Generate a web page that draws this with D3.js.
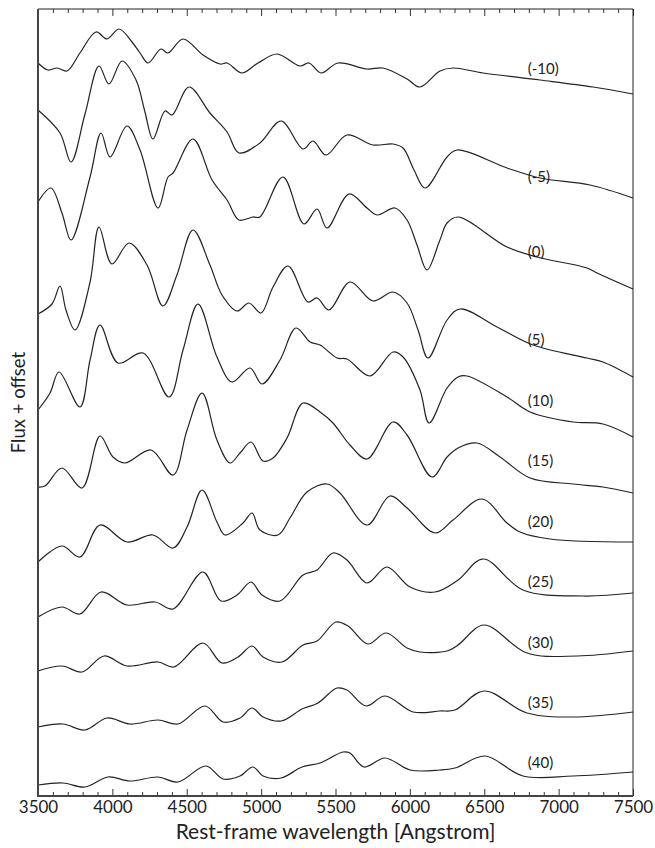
<!DOCTYPE html>
<html>
<head>
<meta charset="utf-8">
<script src="https://cdn.jsdelivr.net/npm/d3@7"></script>
<style>
  body { margin: 0; background: #fff; }
  svg { display: block; }
  text { font-family: Lato, "Open Sans", sans-serif; fill: #222; }
</style>
</head>
<body>
<svg id="chart" width="655" height="848"></svg>
<script>
// Phase labels (days from maximum) for each spectrum, top to bottom
const phases = ["(-10)", "(-5)", "(0)", "(5)", "(10)", "(15)", "(20)", "(25)", "(30)", "(35)", "(40)"];

// Spectra as [wavelength (Angstrom), flux + offset]
const specM10 = [[3500,7.33],[3567,7.26],[3628,7.28],[3695,7.25],[3782,7.43],[3890,7.64],[3964,7.57],[4045,7.67],[4132,7.54],[4186,7.43],[4240,7.33],[4327,7.47],[4374,7.43],[4475,7.57],[4609,7.41],[4724,7.32],[4771,7.33],[4871,7.23],[4979,7.33],[5107,7.42],[5261,7.30],[5322,7.33],[5403,7.23],[5517,7.33],[5712,7.27],[5819,7.28],[5981,7.17],[6068,7.09],[6202,7.25],[6290,7.28],[6492,7.23],[6875,7.16],[7231,7.09],[7500,7.02]];
const specM5 = [[3500,6.86],[3648,6.63],[3722,6.34],[3816,6.82],[3910,7.30],[3977,7.12],[4065,7.35],[4159,7.16],[4219,6.84],[4273,6.57],[4354,6.85],[4401,6.81],[4515,7.09],[4656,6.83],[4771,6.64],[4851,6.43],[4992,6.53],[5134,6.75],[5282,6.47],[5349,6.55],[5436,6.41],[5577,6.61],[5752,6.51],[5887,6.52],[5954,6.48],[6028,6.26],[6102,6.08],[6250,6.39],[6317,6.46],[6653,6.28],[6875,6.18],[7211,6.11],[7500,5.98]];
const spec0 = [[3500,5.94],[3587,6.08],[3661,5.83],[3722,5.56],[3850,6.19],[3924,6.63],[3984,6.39],[4098,6.70],[4186,6.46],[4307,5.88],[4374,6.19],[4408,6.23],[4542,6.57],[4670,6.16],[4771,5.96],[4851,5.76],[4945,5.79],[4992,5.79],[5147,6.19],[5288,5.72],[5376,5.87],[5443,5.68],[5591,6.02],[5712,5.88],[5779,5.81],[5900,5.88],[5981,5.76],[6048,5.51],[6115,5.26],[6202,5.56],[6250,5.73],[6324,5.79],[6653,5.49],[6855,5.39],[7191,5.28],[7258,5.23],[7500,5.07]];
const spec5 = [[3500,4.82],[3594,4.92],[3648,5.10],[3688,4.86],[3749,4.66],[3850,5.14],[3910,5.69],[3997,5.32],[4112,5.53],[4233,5.31],[4340,4.90],[4434,5.21],[4542,5.66],[4656,5.31],[4737,5.01],[4838,4.85],[4918,4.93],[4999,4.83],[5080,5.09],[5181,5.30],[5315,4.94],[5376,4.98],[5456,4.86],[5597,5.14],[5752,4.95],[5887,5.04],[5981,4.93],[6055,4.66],[6122,4.38],[6250,4.76],[6337,4.87],[6586,4.69],[6828,4.51],[7191,4.38],[7298,4.34],[7500,4.19]];
const spec10 = [[3500,3.86],[3581,4.03],[3641,4.24],[3782,3.89],[3850,4.36],[3917,4.71],[4038,4.33],[4206,4.43],[4381,3.99],[4475,4.46],[4576,4.92],[4703,4.39],[4804,4.14],[4925,4.28],[5006,4.12],[5127,4.36],[5234,4.68],[5329,4.54],[5396,4.51],[5510,4.38],[5577,4.37],[5732,4.20],[5887,4.44],[5954,4.39],[6068,4.06],[6129,3.73],[6250,4.08],[6324,4.19],[6384,4.20],[6653,3.99],[6808,3.84],[7097,3.74],[7298,3.72],[7500,3.59]];
const spec15 = [[3500,3.09],[3547,3.10],[3661,3.28],[3796,3.08],[3917,3.60],[4004,3.39],[4085,3.33],[4260,3.46],[4408,3.21],[4502,3.66],[4603,4.03],[4703,3.56],[4791,3.33],[4858,3.43],[4932,3.54],[5013,3.35],[5080,3.38],[5174,3.58],[5282,3.93],[5396,3.84],[5483,3.73],[5597,3.51],[5712,3.37],[5887,3.74],[5981,3.61],[6149,3.19],[6250,3.39],[6324,3.48],[6451,3.53],[6606,3.39],[6808,3.18],[7097,3.12],[7298,3.09],[7500,3.03]];
const spec20 = [[3500,2.34],[3661,2.50],[3782,2.39],[3917,2.71],[4098,2.54],[4273,2.61],[4408,2.48],[4502,2.69],[4603,3.06],[4703,2.74],[4757,2.61],[4878,2.73],[4939,2.83],[4992,2.66],[5113,2.61],[5194,2.78],[5308,3.04],[5443,3.12],[5530,3.03],[5712,2.71],[5866,3.00],[5981,2.88],[6169,2.63],[6290,2.76],[6485,2.97],[6653,2.73],[6740,2.64],[6942,2.57],[7500,2.54]];
const spec25 = [[3500,1.79],[3661,1.89],[3782,1.82],[3924,2.04],[4098,1.91],[4287,1.94],[4408,1.87],[4609,2.24],[4730,1.95],[4838,2.01],[4932,2.14],[5006,2.01],[5127,1.95],[5282,2.21],[5376,2.26],[5483,2.43],[5577,2.36],[5712,2.13],[5846,2.29],[6001,2.09],[6169,2.04],[6324,2.16],[6492,2.37],[6760,2.06],[7164,2.00],[7500,2.03]];
const spec30 = [[3500,1.25],[3661,1.30],[3796,1.24],[3944,1.40],[4098,1.30],[4307,1.34],[4414,1.29],[4609,1.53],[4737,1.33],[4845,1.39],[4939,1.50],[5013,1.39],[5140,1.34],[5282,1.51],[5376,1.55],[5503,1.74],[5584,1.70],[5718,1.52],[5840,1.63],[5981,1.48],[6068,1.44],[6250,1.45],[6324,1.51],[6498,1.71],[6787,1.43],[7124,1.40],[7500,1.45]];
const spec35 = [[3500,0.69],[3668,0.72],[3816,0.66],[3964,0.78],[4118,0.72],[4307,0.76],[4441,0.72],[4623,0.90],[4744,0.74],[4858,0.78],[4939,0.88],[5013,0.79],[5134,0.75],[5275,0.87],[5382,0.93],[5510,1.08],[5577,1.06],[5705,0.90],[5833,1.00],[6021,0.84],[6202,0.85],[6303,0.86],[6498,1.05],[6787,0.83],[7097,0.79],[7500,0.84]];
const spec40 = [[3500,0.11],[3668,0.13],[3816,0.09],[3971,0.19],[4118,0.15],[4307,0.19],[4441,0.14],[4629,0.30],[4744,0.17],[4858,0.20],[4945,0.29],[5013,0.20],[5134,0.18],[5275,0.29],[5396,0.33],[5550,0.44],[5597,0.43],[5692,0.29],[5833,0.38],[6001,0.26],[6202,0.26],[6303,0.28],[6505,0.40],[6760,0.20],[7097,0.20],[7500,0.24]];

const spectra = [specM10, specM5, spec0, spec5, spec10, spec15, spec20, spec25, spec30, spec35, spec40];

// Label positions: wavelength and flux + offset of each phase tag
const labelWave = 6900;
const labelFlux = [7.27, 6.19, 5.44, 4.56, 3.95, 3.35, 2.74, 2.14, 1.53, 0.93, 0.33];

// Axis ticks
const xMajorTicks = [3500, 4000, 4500, 5000, 5500, 6000, 6500, 7000, 7500];
const xMinorTicks = d3.range(3500, 7501, 100).filter(v => v % 500 !== 0);
const xDomain = [3500, 7500];
const yDomain = [0, 7.87];

const svg = d3.select("#chart");
const margin = { left: 38, right: 22, top: 9, bottom: 52 };
const W = 655, H = 848;
const x = d3.scaleLinear().domain(xDomain).range([margin.left, W - margin.right]);
const y = d3.scaleLinear().domain(yDomain).range([H - margin.bottom, margin.top]);

const line = d3.line()
  .x(d => x(d[0]))
  .y(d => y(d[1]))
  .curve(d3.curveCatmullRom.alpha(0.5));

// spectra
svg.append("g")
  .selectAll("path")
  .data(spectra)
  .join("path")
  .attr("d", line)
  .attr("fill", "none")
  .attr("stroke", "#222")
  .attr("stroke-width", 1.2);

// phase labels
svg.append("g")
  .selectAll("text")
  .data(phases)
  .join("text")
  .attr("x", x(labelWave) - 16)
  .attr("y", (d, i) => y(labelFlux[i]))
  .attr("dy", "0.35em")
  .attr("font-size", 15)
  .text(d => d);

// bottom axis: majors with labels, minors without
const gB = svg.append("g").attr("transform", `translate(0,${y(yDomain[0])})`);
gB.call(d3.axisBottom(x).tickValues(xMajorTicks).tickSize(-7).tickPadding(5).tickFormat(d3.format("d")));
gB.append("g").call(d3.axisBottom(x).tickValues(xMinorTicks).tickSize(-4).tickFormat(""));
gB.selectAll(".domain").remove();
gB.selectAll("text").attr("font-size", 17).attr("fill", "#222").style("font-family", "Lato, 'Open Sans', sans-serif");
gB.selectAll("line").attr("stroke", "#333");

// top axis: inward ticks only
const gT = svg.append("g").attr("transform", `translate(0,${y(yDomain[1])})`);
gT.call(d3.axisTop(x).tickValues(xMajorTicks).tickSize(-7).tickFormat(""));
gT.append("g").call(d3.axisTop(x).tickValues(xMinorTicks).tickSize(-4).tickFormat(""));
gT.selectAll(".domain").remove();
gT.selectAll("line").attr("stroke", "#333");

// frame
const [x0, x1] = x.range();
const [yb, yt] = y.range();
svg.append("line").attr("x1", x0).attr("x2", x1).attr("y1", yt).attr("y2", yt).attr("stroke", "#222").attr("stroke-width", 1);
svg.append("line").attr("x1", x1).attr("x2", x1).attr("y1", yt).attr("y2", yb).attr("stroke", "#222").attr("stroke-width", 1);
svg.append("line").attr("x1", x0).attr("x2", x0).attr("y1", yt).attr("y2", yb + 1).attr("stroke", "#444").attr("stroke-width", 2);
svg.append("line").attr("x1", x0 - 1).attr("x2", x1).attr("y1", yb).attr("y2", yb).attr("stroke", "#444").attr("stroke-width", 2);

// axis titles
svg.append("text")
  .attr("x", (x0 + x1) / 2)
  .attr("y", 839)
  .attr("text-anchor", "middle")
  .attr("font-size", 21)
  .text("Rest-frame wavelength [Angstrom]");

svg.append("text")
  .attr("transform", `translate(19,${(yt + yb) / 2}) rotate(-90)`)
  .attr("text-anchor", "middle")
  .attr("dy", "0.35em")
  .attr("font-size", 18.5)
  .text("Flux + offset");
</script>
</body>
</html>
